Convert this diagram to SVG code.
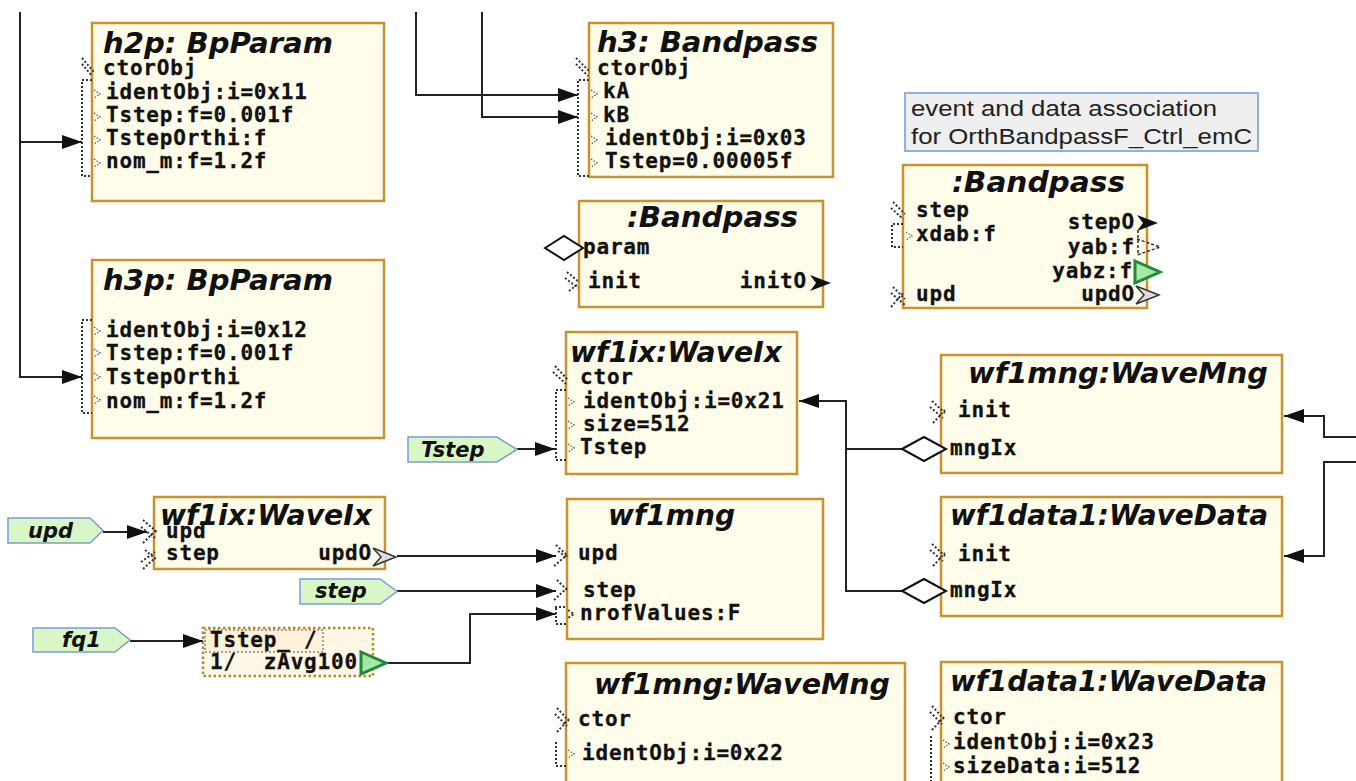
<svg xmlns="http://www.w3.org/2000/svg" width="1356" height="781" viewBox="0 0 1356 781">
<defs>
<style>
.box{fill:#fffde9;stroke:#c8922e;stroke-width:2.5}
.title{font-family:"DejaVu Sans",sans-serif;font-weight:bold;font-style:italic;font-size:28px;fill:#111}
.port{font-family:"DejaVu Sans Mono",monospace;font-weight:bold;font-size:21px;letter-spacing:0.8px;fill:#111;stroke:#111;stroke-width:0.3}
.portR{font-family:"DejaVu Sans Mono",monospace;font-weight:bold;font-size:21px;letter-spacing:0.8px;fill:#111;stroke:#111;stroke-width:0.3;text-anchor:end}
.conn{stroke:#222;stroke-width:2;fill:none}
.dot{stroke:#333;stroke-width:2;stroke-dasharray:2,2;fill:none}
.dotl{stroke:#555;stroke-width:1.2;stroke-dasharray:1.5,1.5;fill:none}
.lbl{fill:#d9f7c6;stroke:#7c9cd4;stroke-width:1.5}
.lbltxt{font-family:"DejaVu Sans",sans-serif;font-weight:bold;font-style:italic;font-size:21px;fill:#111}
.dia{fill:#fff;stroke:#111;stroke-width:2}
.note{font-family:"Liberation Sans",Arial,sans-serif;font-size:22px;fill:#222}
</style>
<marker id="ah" markerUnits="userSpaceOnUse" markerWidth="22" markerHeight="16" refX="20" refY="8" orient="auto"><path d="M0,1 L20,8 L0,15 Z" fill="#111"/></marker>
</defs>

<g id="connectors">
<path class="conn" d="M20,12 V377 H82" marker-end="url(#ah)"/>
<path class="conn" d="M20,142 H82" marker-end="url(#ah)"/>
<path class="conn" d="M416,12 V95 H578" marker-end="url(#ah)"/>
<path class="conn" d="M482,12 V117 H578" marker-end="url(#ah)"/>
<path class="conn" d="M1356,437 H1324 V416 H1284" marker-end="url(#ah)"/>
<path class="conn" d="M1356,462 H1324 V556 H1284" marker-end="url(#ah)"/>
<path class="conn" d="M902,449 H846 V591 H902"/>
<path class="conn" d="M846,449 V401 H799" marker-end="url(#ah)"/>
<path class="conn" d="M517,449 H555" marker-end="url(#ah)"/>
<path class="conn" d="M103,532 H147" marker-end="url(#ah)"/>
<path class="conn" d="M397,556 H556" marker-end="url(#ah)"/>
<path class="conn" d="M397,591 H556" marker-end="url(#ah)"/>
<path class="conn" d="M130,641 H203" marker-end="url(#ah)"/>
<path class="conn" d="M387,663 H470 V614 H556" marker-end="url(#ah)"/>
</g>

<g id="h2p">
<rect class="box" x="92" y="23" width="292" height="178"/>
<text class="title" x="103" y="53" textLength="230" lengthAdjust="spacingAndGlyphs">h2p: BpParam</text>
<path class="dot" d="M82,58 L94,72 M82,64 L92,76 M92,80 H82 V176 H92"/>
<path class="dotl" d="M94,90 L100,94 L94,98 M94,113 L100,117 L94,121 M94,136 L100,140 L94,144 M94,159 L100,163 L94,167"/>
<text class="port" x="103" y="75">ctorObj</text>
<text class="port" x="106" y="99">identObj:i=0x11</text>
<text class="port" x="106" y="122">Tstep:f=0.001f</text>
<text class="port" x="106" y="145">TstepOrthi:f</text>
<text class="port" x="106" y="168">nom_m:f=1.2f</text>
</g>

<g id="h3p">
<rect class="box" x="92" y="260" width="292" height="178"/>
<text class="title" x="103" y="290" textLength="230" lengthAdjust="spacingAndGlyphs">h3p: BpParam</text>
<path class="dot" d="M92,320 H82 V413 H92"/>
<path class="dotl" d="M94,327 L100,331 L94,335 M94,349 L100,353 L94,357 M94,373 L100,377 L94,381 M94,396 L100,400 L94,404"/>
<text class="port" x="106" y="337">identObj:i=0x12</text>
<text class="port" x="106" y="360">Tstep:f=0.001f</text>
<text class="port" x="106" y="384">TstepOrthi</text>
<text class="port" x="106" y="408">nom_m:f=1.2f</text>
</g>

<g id="h3">
<rect class="box" x="589" y="23" width="244" height="154"/>
<text class="title" x="597" y="52" textLength="221" lengthAdjust="spacingAndGlyphs">h3: Bandpass</text>
<path class="dot" d="M576,58 L590,72 M576,64 L588,76 M589,80 H578 V176 H589"/>
<path class="dotl" d="M591,90 L597,94 L591,98 M591,113 L597,117 L591,121 M591,136 L597,140 L591,144 M591,159 L597,163 L591,167"/>
<text class="port" x="597" y="75">ctorObj</text>
<text class="port" x="603" y="98">kA</text>
<text class="port" x="603" y="122">kB</text>
<text class="port" x="605" y="145">identObj:i=0x03</text>
<text class="port" x="605" y="168">Tstep=0.00005f</text>
</g>

<g id="bandpass1">
<rect class="box" x="579" y="201" width="244" height="106"/>
<text class="title" x="627" y="227" textLength="171" lengthAdjust="spacingAndGlyphs">:Bandpass</text>
<path class="dia" d="M545,248 L564,236 L583,248 L564,260 Z"/>
<text class="port" x="583" y="254">param</text>
<path class="dot" d="M567,272 L579,282 M565,278 L578,288 M569,291 L578,284"/>
<text class="port" x="588" y="288">init</text>
<text class="portR" x="807" y="288">initO</text>
<path d="M810,275 L831,283 L810,291 L816,283 Z" fill="#111"/>
</g>

<g id="note">
<rect x="905" y="93" width="353" height="58" fill="#efefef" stroke="#8fb0e0" stroke-width="2"/>
<text class="note" x="911" y="116" textLength="306" lengthAdjust="spacingAndGlyphs">event and data association</text>
<text class="note" x="911" y="144" textLength="341" lengthAdjust="spacingAndGlyphs">for OrthBandpassF_Ctrl_emC</text>
</g>

<g id="bandpass2">
<rect class="box" x="903" y="165" width="244" height="143"/>
<text class="title" x="952" y="192" textLength="173" lengthAdjust="spacingAndGlyphs">:Bandpass</text>
<path class="dot" d="M893,202 L905,214 M891,208 L903,219 M903,224 H892 V247 H903"/>
<path class="dotl" d="M906,232 L912,236 L906,240"/>
<text class="port" x="916" y="217">step</text>
<text class="port" x="916" y="241">xdab:f</text>
<path class="dot" d="M893,287 L905,299 M891,293 L905,305 M891,307 L903,293"/>
<text class="port" x="916" y="301">upd</text>
<text class="portR" x="1135" y="229">stepO</text>
<text class="portR" x="1135" y="254">yab:f</text>
<text class="portR" x="1133" y="278">yabz:f</text>
<text class="portR" x="1135" y="301">updO</text>
<path d="M1137,215 L1158,223 L1137,231 L1143,223 Z" fill="#111"/>
<path d="M1137,239 L1160,247 L1137,255 M1138,230 V255" stroke="#333" stroke-width="1.5" stroke-dasharray="3,2" fill="none"/>
<path d="M1135,261 L1160,272 L1135,283 Z" fill="#a6e6a6" stroke="#1d8a3a" stroke-width="3"/>
<path d="M1136,286 L1159,295 L1136,304 L1144,295 Z" fill="#ddd" stroke="#333" stroke-width="1.5"/>
</g>

<g id="wf1ix_top">
<rect class="box" x="566" y="332" width="231" height="142"/>
<text class="title" x="570" y="362" textLength="212" lengthAdjust="spacingAndGlyphs">wf1ix:WaveIx</text>
<path class="dot" d="M555,366 L568,380 M553,372 L566,384 M566,390 H556 V460 H566"/>
<path class="dotl" d="M568,398 L574,402 L568,406 M568,421 L574,425 L568,429 M568,444 L574,448 L568,452"/>
<text class="port" x="580" y="384">ctor</text>
<text class="port" x="583" y="408">identObj:i=0x21</text>
<text class="port" x="583" y="431">size=512</text>
<text class="port" x="580" y="454">Tstep</text>
</g>

<g id="lbl_Tstep">
<path class="lbl" d="M408,437 H497 L517,449.5 L497,462 H408 Z"/>
<text class="lbltxt" x="421" y="457">Tstep</text>
</g>

<g id="wf1mng_right">
<rect class="box" x="941" y="355" width="341" height="118"/>
<text class="title" x="968" y="383" textLength="300" lengthAdjust="spacingAndGlyphs">wf1mng:WaveMng</text>
<path class="dot" d="M932,401 L945,413 M930,407 L943,418 M933,423 L945,410"/>
<text class="port" x="958" y="417">init</text>
<path class="dia" d="M902,449 L924,437 L946,449 L924,461 Z"/>
<text class="port" x="950" y="455">mngIx</text>
</g>

<g id="wf1data1_right">
<rect class="box" x="941" y="497" width="341" height="119"/>
<text class="title" x="950" y="525" textLength="318" lengthAdjust="spacingAndGlyphs">wf1data1:WaveData</text>
<path class="dot" d="M932,544 L945,556 M930,550 L943,561 M933,566 L945,553"/>
<text class="port" x="958" y="561">init</text>
<path class="dia" d="M902,591 L924,579 L946,591 L924,603 Z"/>
<text class="port" x="950" y="597">mngIx</text>
</g>

<g id="lbl_upd">
<path class="lbl" d="M8,518 H90 L103,530.5 L90,543 H8 Z"/>
<text class="lbltxt" x="28" y="538">upd</text>
</g>

<g id="wf1ix_left">
<rect class="box" x="154" y="497" width="231" height="72"/>
<text class="title" x="160" y="525" textLength="212" lengthAdjust="spacingAndGlyphs">wf1ix:WaveIx</text>
<path class="dot" d="M143,520 L157,532 M141,527 L155,538 M143,543 L157,529"/>
<text class="port" x="166" y="538">upd</text>
<path class="dot" d="M145,550 L157,560 M141,562 L155,552 M143,569 L155,558"/>
<text class="port" x="166" y="560">step</text>
<text class="portR" x="372" y="560">updO</text>
<path d="M373,548 L396,557 L373,566 L381,557 Z" fill="#ddd" stroke="#333" stroke-width="1.5"/>
</g>

<g id="lbl_step">
<path class="lbl" d="M300,579 H380 L397,591.5 L380,604 H300 Z"/>
<text class="lbltxt" x="315" y="598">step</text>
</g>

<g id="wf1mng_mid">
<rect class="box" x="567" y="499" width="256" height="140"/>
<text class="title" x="608" y="525" textLength="127" lengthAdjust="spacingAndGlyphs">wf1mng</text>
<path class="dot" d="M556,545 L568,556 M554,566 L567,555 M558,551 L566,557"/>
<text class="port" x="578" y="560">upd</text>
<path class="dot" d="M557,580 L568,591 M554,600 L567,588 M555,607 H566"/>
<text class="port" x="583" y="597">step</text>
<path class="dot" d="M556,608 V624 H566 M568,610 L574,614 L568,618"/>
<text class="port" x="580" y="620">nrofValues:F</text>
</g>

<g id="lbl_fq1">
<path class="lbl" d="M33,628 H115 L130,640 L115,652 H33 Z"/>
<text class="lbltxt" x="62" y="647">fq1</text>
</g>

<g id="expr">
<rect x="203" y="628" width="170" height="48" fill="#fff6e6" stroke="#b8862a" stroke-width="2.5" stroke-dasharray="2.5,2.5"/>
<rect x="205" y="630" width="118" height="22" fill="#fff0d8" stroke="#888" stroke-width="1.5" stroke-dasharray="2,2"/>
<text class="port" x="210" y="647">Tstep_ /</text>
<text class="port" x="210" y="669">1/&#160; zAvg100</text>
<path d="M361,652 L386,663 L361,674 Z" fill="#a6e6a6" stroke="#1d8a3a" stroke-width="3"/>
</g>

<g id="wf1mng_bottom">
<rect class="box" x="566" y="663" width="339" height="130"/>
<text class="title" x="594" y="694" textLength="296" lengthAdjust="spacingAndGlyphs">wf1mng:WaveMng</text>
<path class="dot" d="M557,708 L569,721 M555,714 L567,726 M557,732 L569,719 M556,742 V766 H566"/>
<path class="dotl" d="M568,750 L574,754 L568,758"/>
<text class="port" x="578" y="726">ctor</text>
<text class="port" x="582" y="760">identObj:i=0x22</text>
</g>

<g id="wf1data1_bottom">
<rect class="box" x="941" y="662" width="341" height="131"/>
<text class="title" x="950" y="691" textLength="317" lengthAdjust="spacingAndGlyphs">wf1data1:WaveData</text>
<path class="dot" d="M932,706 L944,719 M930,712 L942,724 M932,730 L944,717 M931,736 V781"/>
<path class="dotl" d="M943,740 L949,744 L943,748 M943,763 L949,767 L943,771"/>
<text class="port" x="953" y="724">ctor</text>
<text class="port" x="953" y="749">identObj:i=0x23</text>
<text class="port" x="953" y="773">sizeData:i=512</text>
</g>
</svg>
